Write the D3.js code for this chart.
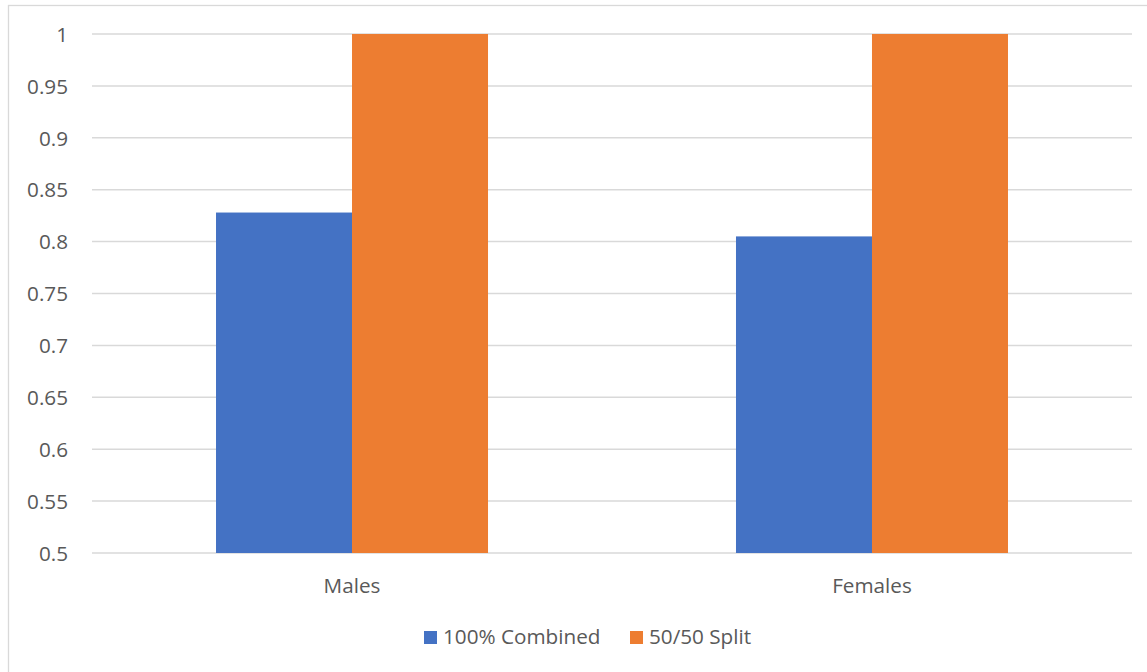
<!DOCTYPE html>
<html>
<head>
<meta charset="utf-8">
<script src="https://cdn.jsdelivr.net/npm/d3@7"></script>
<style>
  html, body { margin: 0; padding: 0; background: #fff; }
  svg { display: block; }
  text { font-family: "Open Sans", "Noto Sans", sans-serif; fill: #595959; }
</style>
</head>
<body>
<svg id="chart" width="1147" height="672"></svg>
<script>
// Chart data
const categories = ["Males", "Females"];
const seriesNames = ["100% Combined", "50/50 Split"];
const seriesColors = ["#4472C4", "#ED7D31"];
const combinedValues = [0.828, 0.805];
const splitValues = [1.0, 1.0];
const yTicks = [0.5, 0.55, 0.6, 0.65, 0.7, 0.75, 0.8, 0.85, 0.9, 0.95, 1];

const seriesValues = [combinedValues, splitValues];

const svg = d3.select("#chart");
const W = 1147, H = 672;
const plot = { left: 92, right: 1132, top: 34, bottom: 553 };
const fontSize = "20.7px";

// Chart area outline
svg.append("rect")
  .attr("x", 8.5).attr("y", 5.5)
  .attr("width", W + 20).attr("height", H + 20)
  .attr("fill", "#fff")
  .attr("stroke", "#d9d9d9")
  .attr("stroke-width", 1.3);

const x = d3.scaleBand()
  .domain(categories)
  .range([plot.left, plot.right])
  .paddingInner(0.4769)
  .paddingOuter(0.2385);

const xSeries = d3.scaleBand()
  .domain(seriesNames)
  .range([0, x.bandwidth()]);

const y = d3.scaleLinear()
  .domain([0.5, 1])
  .range([plot.bottom, plot.top]);

// Horizontal gridlines
svg.append("g")
  .selectAll("line")
  .data(yTicks)
  .join("line")
  .attr("x1", plot.left).attr("x2", plot.right)
  .attr("y1", d => y(d)).attr("y2", d => y(d))
  .attr("stroke", "#d9d9d9")
  .attr("stroke-width", 1.5);

// Y axis labels
const yAxis = d3.axisLeft(y)
  .tickValues(yTicks)
  .tickFormat(d => d3.format("")(+d.toFixed(2)))
  .tickSize(0)
  .tickPadding(0);
const gy = svg.append("g")
  .attr("transform", `translate(${68},0)`)
  .call(yAxis);
gy.select(".domain").remove();
gy.selectAll("text")
  .attr("font-size", fontSize)
  .attr("fill", "#595959")
  .attr("dy", "0.35em")
  .style("font-family", '"Open Sans", "Noto Sans", sans-serif');

// Bars
const groups = svg.append("g")
  .selectAll("g")
  .data(categories)
  .join("g")
  .attr("transform", d => `translate(${x(d)},0)`);

groups.selectAll("rect")
  .data((c, i) => seriesNames.map((s, k) => ({ s, k, v: seriesValues[k][i] })))
  .join("rect")
  .attr("x", d => xSeries(d.s))
  .attr("width", xSeries.bandwidth())
  .attr("y", d => y(d.v))
  .attr("height", d => y(0.5) - y(d.v))
  .attr("fill", d => seriesColors[d.k]);

// X axis labels
const xAxis = d3.axisBottom(x).tickSize(0).tickPadding(0);
const gx = svg.append("g")
  .attr("transform", `translate(0,${plot.bottom})`)
  .call(xAxis);
gx.select(".domain").remove();
gx.selectAll("text")
  .attr("font-size", fontSize)
  .attr("fill", "#595959")
  .attr("dy", null)
  .attr("y", 40)
  .style("font-family", '"Open Sans", "Noto Sans", sans-serif');

// Legend
const legendItems = [
  { name: seriesNames[0], color: seriesColors[0], x: 424 },
  { name: seriesNames[1], color: seriesColors[1], x: 630 }
];
const legend = svg.append("g");
legendItems.forEach(item => {
  legend.append("rect")
    .attr("x", item.x).attr("y", 631)
    .attr("width", 13).attr("height", 13)
    .attr("fill", item.color);
  legend.append("text")
    .attr("x", item.x + 19).attr("y", 644)
    .attr("font-size", fontSize)
    .text(item.name);
});
</script>
</body>
</html>
